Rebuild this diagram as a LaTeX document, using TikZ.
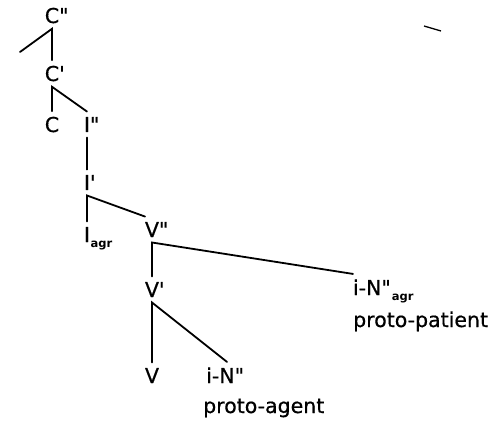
\documentclass[tikz,border=0pt]{standalone}
\usepackage{fontspec}
% plain straight quotes, slightly heavier strokes
\setmainfont{DejaVu Sans}[Ligatures=TeXOff, FakeBold=0.6, BoldFont={DejaVu Sans Bold}, BoldFeatures={FakeBold=0}]
% straight prime and double prime
\newcommand{\sqm}{\symbol{39}}
\newcommand{\dqm}{\symbol{34}}
% small bold feature subscript
\newcommand{\feat}[1]{\raisebox{-5pt}{\fontsize{11.5}{12}\selectfont\bfseries #1}}
\begin{document}
\begin{tikzpicture}[x=1pt,y=1pt,
  cat/.style={inner sep=0pt, outer xsep=0pt, outer ysep=5.5pt, anchor=base,
              font=\fontsize{20.5}{24}\selectfont},
  words/.style={inner sep=0pt, anchor=base west, font=\fontsize{20.5}{24}\selectfont},
  branch/.style={line width=1.8pt, line cap=round}]
\useasboundingbox (0,0) rectangle (492,426);

% category labels
\node[cat] (Cbar2) at (52,403) {C\rlap{\dqm}};
\node[cat] (Cbar1) at (52,345) {C\rlap{\sqm}};
\node[cat] (C)     at (52,294) {C};
\node[cat] (Ibar2) at (87,294) {I\rlap{\dqm}};
\node[cat] (Ibar1) at (87,236) {I\rlap{\sqm}};
\node[cat] (Iagr)  at (87,184) {I\rlap{\hspace{0.5pt}\feat{agr}}};
\node[cat] (Vbar2) at (152,189) {V\rlap{\dqm}};
\node[cat] (Vbar1) at (152,129) {V\rlap{\sqm}};
\node[cat] (V)     at (152,43) {V};
\node[cat] (NP)    at (227,43) {\llap{i-}N\rlap{\dqm}};
\node[cat, anchor=base west] (NPagr) at (353,131) {i-N\dqm\hspace{1pt}\feat{agr}};

% thematic role labels
\node[words] (agent)   at (203,13) {proto-agent};
\node[words] (patient) at (353,99) {proto-patient};

% free end of the specifier branch
\coordinate (spec) at (20,374);

% tree branches
\draw[branch] (spec) -- (Cbar2.south) -- (Cbar1.north);
\draw[branch] (C.north) -- (Cbar1.south) -- (Ibar2.north);
\draw[branch] (Ibar2.south) -- (Ibar1.north);
\draw[branch] (Iagr.north) -- (Ibar1.south) -- (Vbar2.north west);
\draw[branch] (Vbar1.north) -- (Vbar2.south) -- (NPagr.north west);
\draw[branch] (V.north) -- (Vbar1.south) -- (NP.north);

% short stroke at top right
\coordinate (s1) at (424,400);
\coordinate (s2) at (441,395);
\draw[line width=1.3pt] (s1) -- (s2);
\end{tikzpicture}
\end{document}
